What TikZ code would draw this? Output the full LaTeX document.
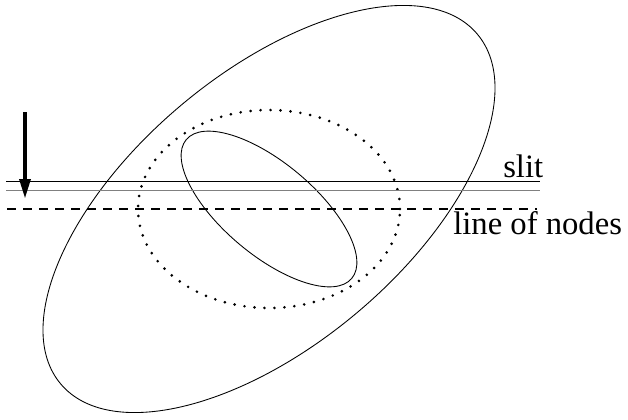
\documentclass[tikz,border=0pt]{standalone}
\usepackage{fontspec}
\setmainfont{Liberation Serif}
\usetikzlibrary{arrows.meta}

\begin{document}
\begin{tikzpicture}[x=0.75pt, y=0.75pt,
    orbit/.style={line width=0.65pt},
    ring/.style={line width=2.2pt, line cap=round, dash pattern=on 0pt off 7.5pt},
    nodeline/.style={line width=1.5pt, dash pattern=on 7pt off 5pt},
    tag/.style={inner sep=0pt, anchor=base west, font=\fontsize{24.5}{28}\selectfont}]
  \useasboundingbox (0,0) rectangle (628,419);
  \coordinate (c) at (269,210);
  % outer and inner ellipses, the dotted circle
  \draw[orbit, rotate around={40:(c)}] (c) ellipse [x radius=272, y radius=136];
  \draw[orbit, rotate around={-40:(c)}] (c) ellipse [x radius=108, y radius=46];
  \draw[ring] (c) ellipse [x radius=131, y radius=99];
  % slit
  \coordinate (s1l) at (6,238);   \coordinate (s1r) at (540,238);
  \coordinate (s2l) at (6,228.5); \coordinate (s2r) at (540,228.5);
  \draw[orbit] (s1l) -- (s1r);
  \draw[orbit, gray] (s2l) -- (s2r);
  \node[tag] (slit) at (503,242) {slit};
  % line of nodes
  \coordinate (nl) at (7,210); \coordinate (nr) at (537,210);
  \draw[nodeline] (nl) -- (nr);
  \node[tag] (nodes) at (453,185) {line of nodes};
  % arrow
  \coordinate (a0) at (25,307); \coordinate (a1) at (25,220);
  \draw[line width=3pt, -{Triangle[length=15pt, width=8pt]}] (a0) -- (a1);
\end{tikzpicture}
\end{document}
